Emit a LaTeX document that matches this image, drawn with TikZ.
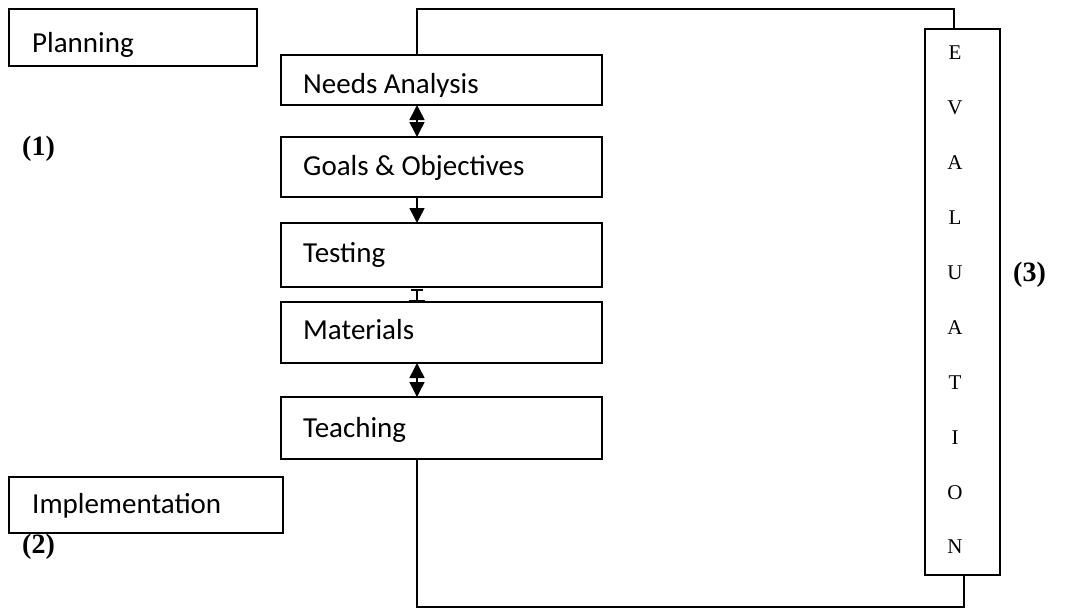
\documentclass[tikz,border=0pt]{standalone}
\usepackage{fontspec}
\setmainfont{Liberation Serif}
\newfontfamily\calfont{Carlito}
\usetikzlibrary{arrows.meta}
\begin{document}
\begin{tikzpicture}[x=1pt,y=-1pt,
  box/.style={draw, fill=white, line width=1.5pt, inner sep=0pt, outer sep=0pt, anchor=north west},
  lbl/.style={anchor=base west, inner sep=0pt, font=\calfont\fontsize{29}{33}\selectfont},
  num/.style={anchor=base west, inner sep=0pt, font=\bfseries\fontsize{28}{32}\selectfont},
  evl/.style={anchor=center, inner sep=0pt, font=\fontsize{21}{24}\selectfont},
  conn/.style={line width=1.5pt},
  arr/.style={line width=1.5pt, -{Triangle[width=15pt,length=15pt]}},
  darr/.style={line width=1.5pt, {Triangle[width=15pt,length=15pt]}-{Triangle[width=15pt,length=15pt]}},
  barr/.style={line width=1.5pt, {Bar[width=12pt,line width=2pt]}-{Bar[width=16pt,line width=2.5pt]}},
]
\useasboundingbox (0,0) rectangle (1084,608);

% numbers (2) is partly hidden behind the Implementation box
\node[num] (n1) at (22,155) {(1)};
\node[num] (n2) at (22,553) {(2)};
\node[num] (n3) at (1013,281) {(3)};

% left boxes
\node[box, minimum width=248pt, minimum height=57pt] (plan) at (9,9) {};
\node[lbl] (planT) at (32,52) {Planning};
\node[box, minimum width=274pt, minimum height=56pt] (impl) at (9,477) {};
\node[lbl] (implT) at (32,513) {Implementation};

% middle boxes
\node[box, minimum width=321pt, minimum height=50pt] (na) at (281,55) {};
\begin{scope}
\clip (281,55) rectangle (602,96.5);
\node[lbl] (naT) at (303,93) {Needs Analysis};
\end{scope}
\node[box, minimum width=321pt, minimum height=60pt] (go) at (281,137) {};
\node[lbl] (goT) at (303,175) {Goals \& Objectives};
\node[box, minimum width=321pt, minimum height=64pt] (te) at (281,223) {};
\node[lbl] (teT) at (303,262) {Testing};
\node[box, minimum width=321pt, minimum height=61pt] (ma) at (281,302) {};
\node[lbl] (maT) at (303,339) {Materials};
\node[box, minimum width=321pt, minimum height=62pt] (tc) at (281,397) {};
\node[lbl] (tcT) at (303,437) {Teaching};

% evaluation box
\node[box, minimum width=75pt, minimum height=546pt] (ev) at (925,29) {};
\foreach \c [count=\i from 0] in {E,V,A,L,U,A,T,I,O,N}
  \node[evl] (ev\i) at (955,53+54.9*\i) {\c};

% connectors
\coordinate (cx) at (417,0);
\coordinate (topc) at (954,9);
\coordinate (botc) at (964,607);
\draw[conn] (na.north -| cx) |- (topc) -- (ev.north -| topc);
\draw[conn] (tc.south -| cx) |- (botc) -- (ev.south -| botc);

\draw[darr] (na.south -| cx) -- (go.north -| cx);
\draw[arr] (go.south -| cx) -- (te.north -| cx);
\draw[barr] ([yshift=-1.5pt]te.south -| cx) -- (ma.north -| cx);
\draw[darr] (ma.south -| cx) -- (tc.north -| cx);
\end{tikzpicture}
\end{document}
